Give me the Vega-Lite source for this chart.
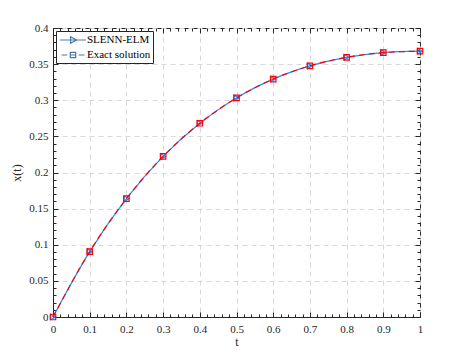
{
  "$schema": "https://vega.github.io/schema/vega-lite/v6.json",
  "width": 367,
  "height": 289,
  "autosize": "none",
  "padding": {"left": 53, "top": 28, "right": 45, "bottom": 36},
  "background": "white",
  "config": {
    "font": "Liberation Serif, Times New Roman, serif",
    "view": {"stroke": "#262626", "strokeWidth": 1},
    "axis": {
      "labelFont": "Liberation Serif, Times New Roman, serif",
      "labelFontSize": 11,
      "labelColor": "#262626",
      "titleFont": "Liberation Serif, Times New Roman, serif",
      "titleFontSize": 12,
      "titleFontWeight": "normal",
      "titleColor": "#262626",
      "domainColor": "#262626",
      "tickColor": "#262626",
      "labelOverlap": false,
      "labelFlush": false,
      "labelBound": false
    }
  },
  "data": {
    "values": [
      {"t": 0.0, "x": 0.0, "series": "SLENN-ELM"},
      {"t": 0.1, "x": 0.090484, "series": "SLENN-ELM"},
      {"t": 0.2, "x": 0.163746, "series": "SLENN-ELM"},
      {"t": 0.3, "x": 0.222245, "series": "SLENN-ELM"},
      {"t": 0.4, "x": 0.268128, "series": "SLENN-ELM"},
      {"t": 0.5, "x": 0.303265, "series": "SLENN-ELM"},
      {"t": 0.6, "x": 0.329287, "series": "SLENN-ELM"},
      {"t": 0.7, "x": 0.34761, "series": "SLENN-ELM"},
      {"t": 0.8, "x": 0.359463, "series": "SLENN-ELM"},
      {"t": 0.9, "x": 0.365912, "series": "SLENN-ELM"},
      {"t": 1.0, "x": 0.367879, "series": "SLENN-ELM"},
      {"t": 0.0, "x": 0.0, "series": "Exact solution"},
      {"t": 0.1, "x": 0.090484, "series": "Exact solution"},
      {"t": 0.2, "x": 0.163746, "series": "Exact solution"},
      {"t": 0.3, "x": 0.222245, "series": "Exact solution"},
      {"t": 0.4, "x": 0.268128, "series": "Exact solution"},
      {"t": 0.5, "x": 0.303265, "series": "Exact solution"},
      {"t": 0.6, "x": 0.329287, "series": "Exact solution"},
      {"t": 0.7, "x": 0.34761, "series": "Exact solution"},
      {"t": 0.8, "x": 0.359463, "series": "Exact solution"},
      {"t": 0.9, "x": 0.365912, "series": "Exact solution"},
      {"t": 1.0, "x": 0.367879, "series": "Exact solution"}
    ]
  },
  "resolve": {"axis": {"x": "independent", "y": "independent"}},
  "layer": [
    {
      "transform": [{"filter": "datum.series === 'SLENN-ELM'"}],
      "mark": {"type": "line", "color": "#1f8fff", "strokeWidth": 1.2, "interpolate": "monotone"},
      "encoding": {
        "x": {
          "field": "t", "type": "quantitative",
          "scale": {"domain": [0, 1], "nice": false},
          "axis": {
            "orient": "bottom",
            "title": "t",
            "values": [0,0.02,0.04,0.06,0.08,0.1,0.12,0.14,0.16,0.18,0.2,0.22,0.24,0.26,0.28,0.3,0.32,0.34,0.36,0.38,0.4,0.42,0.44,0.46,0.48,0.5,0.52,0.54,0.56,0.58,0.6,0.62,0.64,0.66,0.68,0.7,0.72,0.74,0.76,0.78,0.8,0.82,0.84,0.86,0.88,0.9,0.92,0.94,0.96,0.98,1],
            "labelExpr": "abs(datum.value*10-round(datum.value*10))<1e-6 ? format(datum.value, '~g') : ''",
            "tickSize": {"condition": {"test": "abs(datum.value*10-round(datum.value*10))<1e-6", "value": -5}, "value": -3},
            "labelPadding": 11,
            "titlePadding": 0,
            "grid": true,
            "gridColor": "#d9d9d9",
            "gridDash": [5, 4],
            "gridOpacity": {"condition": {"test": "abs(datum.value*10-round(datum.value*10))<1e-6", "value": 1}, "value": 0}
          }
        },
        "y": {
          "field": "x", "type": "quantitative",
          "scale": {"domain": [0, 0.4], "nice": false},
          "axis": {
            "orient": "left",
            "title": "x(t)",
            "values": [0,0.01,0.02,0.03,0.04,0.05,0.06,0.07,0.08,0.09,0.1,0.11,0.12,0.13,0.14,0.15,0.16,0.17,0.18,0.19,0.2,0.21,0.22,0.23,0.24,0.25,0.26,0.27,0.28,0.29,0.3,0.31,0.32,0.33,0.34,0.35,0.36,0.37,0.38,0.39,0.4],
            "labelExpr": "abs(datum.value*20-round(datum.value*20))<1e-6 ? format(datum.value, '~g') : ''",
            "tickSize": {"condition": {"test": "abs(datum.value*20-round(datum.value*20))<1e-6", "value": -5}, "value": -3},
            "labelPadding": 10,
            "titlePadding": 5,
            "grid": true,
            "gridColor": "#d9d9d9",
            "gridDash": [5, 4],
            "gridOpacity": {"condition": {"test": "abs(datum.value*20-round(datum.value*20))<1e-6", "value": 1}, "value": 0}
          }
        }
      }
    },
    {
      "transform": [{"filter": "datum.series === 'SLENN-ELM'"}],
      "mark": {"type": "point", "shape": "triangle-right", "color": "#1f8fff", "filled": false, "size": 30, "strokeWidth": 1.2, "opacity": 1},
      "encoding": {
        "x": {"field": "t", "type": "quantitative", "axis": null},
        "y": {"field": "x", "type": "quantitative", "axis": null}
      }
    },
    {
      "transform": [{"filter": "datum.series === 'Exact solution'"}],
      "mark": {"type": "line", "color": "#ff0000", "strokeWidth": 1.2, "strokeDash": [6, 4], "interpolate": "monotone"},
      "encoding": {
        "x": {"field": "t", "type": "quantitative", "axis": null},
        "y": {"field": "x", "type": "quantitative", "axis": null}
      }
    },
    {
      "transform": [{"filter": "datum.series === 'Exact solution'"}],
      "mark": {"type": "point", "shape": "square", "color": "#ff0000", "filled": false, "size": 30, "strokeWidth": 1.2, "opacity": 1},
      "encoding": {
        "x": {"field": "t", "type": "quantitative", "axis": null},
        "y": {"field": "x", "type": "quantitative", "axis": null}
      }
    },
    {
      "mark": {"type": "point", "filled": false, "opacity": 0},
      "encoding": {
        "x": {
          "field": "t", "type": "quantitative",
          "axis": {
            "orient": "top", "title": null, "labels": false, "grid": false, "domain": false,
            "values": [0,0.02,0.04,0.06,0.08,0.1,0.12,0.14,0.16,0.18,0.2,0.22,0.24,0.26,0.28,0.3,0.32,0.34,0.36,0.38,0.4,0.42,0.44,0.46,0.48,0.5,0.52,0.54,0.56,0.58,0.6,0.62,0.64,0.66,0.68,0.7,0.72,0.74,0.76,0.78,0.8,0.82,0.84,0.86,0.88,0.9,0.92,0.94,0.96,0.98,1],
            "tickSize": {"condition": {"test": "abs(datum.value*10-round(datum.value*10))<1e-6", "value": -5}, "value": -3}
          }
        },
        "y": {
          "field": "x", "type": "quantitative",
          "axis": {
            "orient": "right", "title": null, "labels": false, "grid": false, "domain": false,
            "values": [0,0.01,0.02,0.03,0.04,0.05,0.06,0.07,0.08,0.09,0.1,0.11,0.12,0.13,0.14,0.15,0.16,0.17,0.18,0.19,0.2,0.21,0.22,0.23,0.24,0.25,0.26,0.27,0.28,0.29,0.3,0.31,0.32,0.33,0.34,0.35,0.36,0.37,0.38,0.39,0.4],
            "tickSize": {"condition": {"test": "abs(datum.value*20-round(datum.value*20))<1e-6", "value": -5}, "value": -3}
          }
        },
        "shape": {
          "field": "series", "type": "nominal",
          "scale": {
            "domain": ["SLENN-ELM", "Exact solution"],
            "range": [
              "M-2.15,0H2.15M-0.4,-0.55L0.6,0L-0.4,0.55Z",
              "M-1.9,0H-0.95M0.95,0H1.9M-0.45,-0.45H0.45V0.45H-0.45ZM-0.45,0H0.45"
            ]
          },
          "legend": {
            "orient": "top-left",
            "offset": 3,
            "title": null,
            "symbolSize": 144,
            "symbolStrokeWidth": 1.2,
            "symbolOffset": 8,
            "labelOffset": 7,
            "labelExpr": "datum.label + '  '",
            "labelFont": "Liberation Serif, Times New Roman, serif",
            "labelFontSize": 11,
            "labelColor": "#000000",
            "strokeColor": "#262626",
            "fillColor": "white",
            "padding": 2,
            "rowPadding": 2,
            "encode": {
              "symbols": {
                "update": {
                  "stroke": {"signal": "datum.value === 'SLENN-ELM' ? '#1f8fff' : '#ff0000'"},
                  "fill": {"value": "transparent"},
                  "opacity": {"value": 1}
                }
              }
            }
          }
        }
      }
    }
  ]
}
